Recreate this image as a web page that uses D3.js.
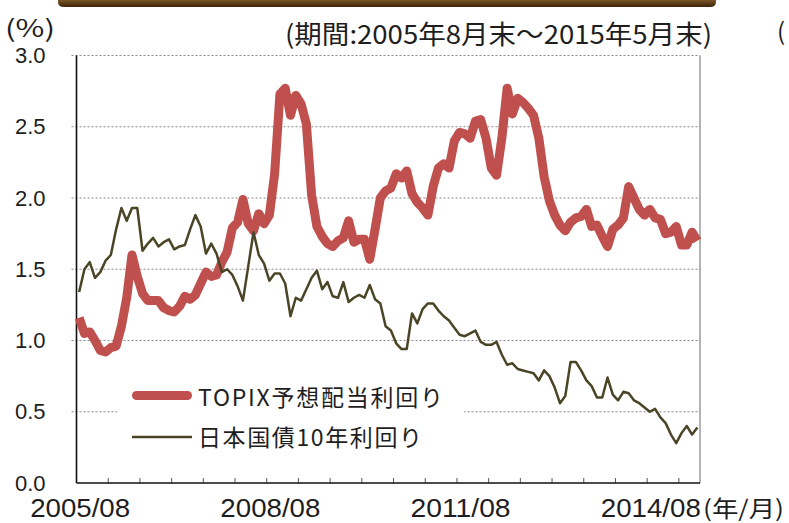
<!DOCTYPE html>
<html>
<head>
<meta charset="utf-8">
<script src="https://cdn.jsdelivr.net/npm/d3@7"></script>
<style>
  body { margin: 0; background: #fff; }
  text { fill: #1e1e1e; }
</style>
</head>
<body>
<div id="chart"></div>
<script>
// month-end categories, 2005/08 .. 2015/05
var months = [];
for (var yr = 2005, mo = 8; yr < 2015 || (yr === 2015 && mo <= 5); mo++) {
  if (mo > 12) { mo = 1; yr++; }
  months.push(yr + '/' + (mo < 10 ? '0' + mo : mo));
}

// TOPIX forecast dividend yield (%)
var topixYield = [
  1.16, 1.05, 1.06, 1.00, 0.93, 0.92, 0.95, 0.96, 1.10, 1.30,
  1.60, 1.45, 1.33, 1.28, 1.28, 1.28, 1.23, 1.21, 1.20, 1.24,
  1.31, 1.29, 1.32, 1.40, 1.48, 1.45, 1.46, 1.55, 1.62, 1.79,
  1.83, 1.99, 1.82, 1.77, 1.89, 1.82, 1.88, 2.17, 2.73, 2.77,
  2.58, 2.72, 2.66, 2.52, 2.02, 1.80, 1.73, 1.68, 1.66, 1.70,
  1.72, 1.84, 1.69, 1.71, 1.71, 1.57, 1.78, 2.00, 2.05, 2.07,
  2.17, 2.14, 2.19, 2.03, 1.97, 1.93, 1.88, 2.08, 2.21, 2.24,
  2.21, 2.40, 2.46, 2.45, 2.42, 2.54, 2.55, 2.42, 2.21, 2.16,
  2.42, 2.77, 2.59, 2.70, 2.67, 2.63, 2.58, 2.42, 2.15, 1.98,
  1.88, 1.81, 1.77, 1.83, 1.86, 1.87, 1.92, 1.80, 1.81, 1.73,
  1.66, 1.78, 1.81, 1.86, 2.08, 2.00, 1.92, 1.88, 1.92, 1.86,
  1.85, 1.75, 1.76, 1.80, 1.67, 1.67, 1.76, 1.70
];

// JGB 10y yield (%)
var jgb10y = [
  1.34, 1.50, 1.55, 1.44, 1.48, 1.56, 1.60, 1.78, 1.93, 1.84,
  1.93, 1.93, 1.63, 1.68, 1.72, 1.66, 1.69, 1.71, 1.64, 1.66,
  1.67, 1.78, 1.88, 1.80, 1.61, 1.68, 1.61, 1.48, 1.50, 1.46,
  1.38, 1.28, 1.52, 1.76, 1.60, 1.54, 1.42, 1.47, 1.47, 1.40,
  1.17, 1.30, 1.28, 1.36, 1.44, 1.49, 1.36, 1.41, 1.31, 1.30,
  1.41, 1.27, 1.30, 1.32, 1.30, 1.39, 1.29, 1.26, 1.10, 1.07,
  0.98, 0.94, 0.94, 1.19, 1.12, 1.22, 1.26, 1.26, 1.21, 1.17,
  1.14, 1.09, 1.04, 1.03, 1.05, 1.07, 0.99, 0.97, 0.97, 0.99,
  0.90, 0.83, 0.84, 0.80, 0.79, 0.78, 0.77, 0.72, 0.79, 0.75,
  0.67, 0.56, 0.61, 0.85, 0.85, 0.79, 0.72, 0.68, 0.60, 0.60,
  0.74, 0.62, 0.58, 0.64, 0.63, 0.58, 0.56, 0.53, 0.50, 0.52,
  0.46, 0.42, 0.34, 0.28, 0.35, 0.40, 0.34, 0.39
];

var yTicks = [0, 0.5, 1.0, 1.5, 2.0, 2.5, 3.0];
var xLabels = ['2005/08', '2008/08', '2011/08', '2014/08'];
var seriesNames = ['TOPIX予想配当利回り', '日本国債10年利回り'];

var W = 789, H = 523;
var plotLeft = 76.5, plotRight = 700, plotTop = 55.5, plotBottom = 483;
var red = '#c0504d', olive = '#4b4527';
var cjk = '"Noto Sans CJK JP", sans-serif';
var latin = '"Liberation Sans", Arial, sans-serif';

var svg = d3.select('#chart').append('svg')
    .attr('width', W)
    .attr('height', H);

var x = d3.scaleBand()
    .domain(months)
    .range([plotLeft, plotRight])
    .padding(0);
var y = d3.scaleLinear()
    .domain([0, 3])
    .range([plotBottom, plotTop]);
function cx(m) { return x(m) + x.bandwidth() / 2; }

// brown header bar at the very top
var defs = svg.append('defs');
var grad = defs.append('linearGradient').attr('id', 'barGrad')
    .attr('x1', 0).attr('y1', 0).attr('x2', 0).attr('y2', 1);
grad.append('stop').attr('offset', '0%').attr('stop-color', '#7a5626');
grad.append('stop').attr('offset', '100%').attr('stop-color', '#3a2208');
svg.append('path')
    .attr('d', 'M58,0 H716 V2 Q716,7 710,7 H64 Q58,7 58,2 Z')
    .attr('fill', 'url(#barGrad)');

// dotted gridlines (incl. top border)
svg.append('g').selectAll('line')
    .data(yTicks.filter(function(d){ return d > 0; }))
    .enter().append('line')
    .attr('x1', plotLeft - 5).attr('x2', plotRight)
    .attr('y1', function(d){ return y(d); })
    .attr('y2', function(d){ return y(d); })
    .attr('stroke', '#8a8a8a')
    .attr('stroke-width', 1.2)
    .attr('stroke-dasharray', '2,2');

// right border
svg.append('line')
    .attr('x1', plotRight).attr('x2', plotRight)
    .attr('y1', plotTop).attr('y2', plotBottom)
    .attr('stroke', '#8c8c8c').attr('stroke-width', 1.3);

// x tick marks every 6 months
svg.append('g').selectAll('line')
    .data(months.filter(function(d, i){ return i > 0 && i % 6 === 0; }))
    .enter().append('line')
    .attr('x1', function(d){ return x(d); })
    .attr('x2', function(d){ return x(d); })
    .attr('y1', plotBottom).attr('y2', plotBottom - 5)
    .attr('stroke', '#555').attr('stroke-width', 1);

// axes lines
svg.append('line')
    .attr('x1', plotLeft).attr('x2', plotLeft).attr('y1', plotTop).attr('y2', plotBottom)
    .attr('stroke', '#111').attr('stroke-width', 1.6);
svg.append('line')
    .attr('x1', plotLeft).attr('x2', plotRight).attr('y1', plotBottom).attr('y2', plotBottom)
    .attr('stroke', '#111').attr('stroke-width', 1.6);

// y axis labels
var yAxis = svg.append('g')
    .attr('transform', 'translate(' + plotLeft + ',0)')
    .call(d3.axisLeft(y).tickValues(yTicks).tickFormat(d3.format('.1f')).tickSize(0).tickPadding(31));
yAxis.select('.domain').remove();
yAxis.selectAll('text')
    .style('font-family', latin)
    .style('font-size', '22px')
    .style('fill', '#1e1e1e');

// x axis labels
svg.append('g').selectAll('text')
    .data(xLabels)
    .enter().append('text')
    .attr('x', function(d){ return cx(d) + 1; })
    .attr('y', 517)
    .attr('text-anchor', 'middle')
    .attr('textLength', 100)
    .attr('lengthAdjust', 'spacingAndGlyphs')
    .style('font-family', latin)
    .style('font-size', '26px')
    .text(function(d){ return d; });
svg.append('text')
    .attr('x', 703).attr('y', 517)
    .attr('textLength', 81).attr('lengthAdjust', 'spacingAndGlyphs')
    .style('font-family', cjk).style('font-size', '23px')
    .text('(年/月)');

// titles
svg.append('text')
    .attr('x', 5).attr('y', 37)
    .attr('textLength', 50).attr('lengthAdjust', 'spacingAndGlyphs')
    .style('font-family', cjk).style('font-size', '24px')
    .text('(%)');
svg.append('text')
    .attr('x', 285).attr('y', 44)
    .attr('textLength', 427).attr('lengthAdjust', 'spacingAndGlyphs')
    .style('font-family', cjk).style('font-size', '26px')
    .text('(期間:2005年8月末～2015年5月末)');
svg.append('text')
    .attr('x', 777).attr('y', 40)
    .style('font-family', cjk).style('font-size', '24px')
    .text('(');

// lines
var line = d3.line()
    .x(function(d, i){ return cx(months[i]); })
    .y(function(d){ return y(d); });

svg.append('path')
    .datum(topixYield)
    .attr('d', line)
    .attr('fill', 'none')
    .attr('stroke', red)
    .attr('stroke-width', 9)
    .attr('stroke-linejoin', 'round')
    .attr('stroke-linecap', 'butt');

svg.append('path')
    .datum(jgb10y)
    .attr('d', line)
    .attr('fill', 'none')
    .attr('stroke', olive)
    .attr('stroke-width', 2.5)
    .attr('stroke-linejoin', 'round');

// legend
var legend = svg.append('g');
legend.append('rect')
    .attr('x', 117).attr('y', 368).attr('width', 347).attr('height', 92)
    .attr('fill', '#fff');
legend.append('line')
    .attr('x1', 136.5).attr('x2', 187.5).attr('y1', 395.5).attr('y2', 395.5)
    .attr('stroke', red).attr('stroke-width', 9).attr('stroke-linecap', 'round');
legend.append('text')
    .attr('x', 198).attr('y', 406)
    .attr('textLength', 245)
    .style('font-family', cjk).style('font-size', '23px')
    .text(seriesNames[0]);
legend.append('line')
    .attr('x1', 132).attr('x2', 192).attr('y1', 437).attr('y2', 437)
    .attr('stroke', olive).attr('stroke-width', 2.5);
legend.append('text')
    .attr('x', 198).attr('y', 445.5)
    .attr('textLength', 224)
    .style('font-family', cjk).style('font-size', '23px')
    .text(seriesNames[1]);
</script>
</body>
</html>
